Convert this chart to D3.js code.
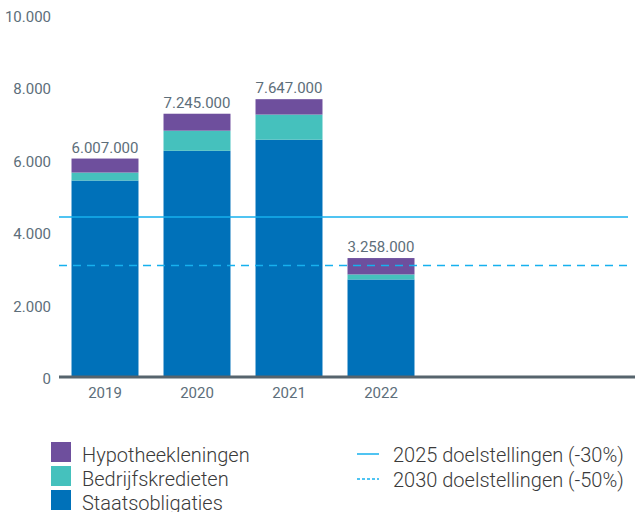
<!DOCTYPE html>
<html>
<head>
<meta charset="utf-8">
<script src="https://cdn.jsdelivr.net/npm/d3@7"></script>
<style>
  body { margin: 0; background: #fff; }
  text { font-family: Roboto, sans-serif; }
</style>
</head>
<body>
<div id="chart"></div>
<script>
const years = ["2019", "2020", "2021", "2022"]
const staatsobligaties = [5400, 6222, 6528, 2667]
const bedrijfskredieten = [220, 555, 694, 139]
const hypotheekleningen = [387, 468, 425, 452]
const totals = ["6.007.000", "7.245.000", "7.647.000", "3.258.000"]
const yTicks = [0, 2000, 4000, 6000, 8000, 10000]
const target2025 = 4390
const target2030 = 3050

const seriesNames = ["Staatsobligaties", "Bedrijfskredieten", "Hypotheekleningen"]
const colors = { Staatsobligaties: "#0071b9", Bedrijfskredieten: "#45c1bd", Hypotheekleningen: "#6e4f9d" }
const lineColor = "#16b1ee"
const textColor = "#5d6e7a"

const width = 635, height = 512
const svg = d3.select("#chart").append("svg").attr("width", width).attr("height", height)

const rows = years.map((y, i) => ({
  year: y,
  Staatsobligaties: staatsobligaties[i],
  Bedrijfskredieten: bedrijfskredieten[i],
  Hypotheekleningen: hypotheekleningen[i]
}))
const stacked = d3.stack().keys(seriesNames)(rows)

const x = d3.scaleBand().domain(years).range([59, 59 + 92 * 4]).paddingInner(0.272).paddingOuter(0.136)
const y = d3.scaleLinear().domain([0, 10000]).range([376, 14])

// y labels
svg.append("g").selectAll("text").data(yTicks).join("text")
  .attr("x", 51).attr("y", d => y(d) + 8)
  .attr("text-anchor", "end").attr("font-size", 15).attr("fill", textColor)
  .text(d => d3.format(",")(d).replace(/,/g, "."))

// bars
svg.append("g").selectAll("g").data(stacked).join("g")
  .attr("fill", d => colors[d.key])
  .selectAll("rect").data(d => d).join("rect")
  .attr("x", d => x(d.data.year))
  .attr("width", x.bandwidth())
  .attr("y", d => y(d[1]))
  .attr("height", d => y(d[0]) - y(d[1]))

// total labels
svg.append("g").selectAll("text").data(rows).join("text")
  .attr("x", d => x(d.year) + x.bandwidth() / 2)
  .attr("y", (d, i) => y(staatsobligaties[i] + bedrijfskredieten[i] + hypotheekleningen[i]) - 6)
  .attr("text-anchor", "middle").attr("font-size", 15).attr("fill", textColor)
  .text((d, i) => totals[i])

// target lines
svg.append("line").attr("x1", 59).attr("x2", 628)
  .attr("y1", y(target2025)).attr("y2", y(target2025))
  .attr("stroke", lineColor).attr("stroke-width", 1.5)
svg.append("line").attr("x1", 59).attr("x2", 628)
  .attr("y1", y(target2030)).attr("y2", y(target2030))
  .attr("stroke", lineColor).attr("stroke-width", 1.5).attr("stroke-dasharray", "8,6")

// x axis
svg.append("line").attr("x1", 59).attr("x2", 635).attr("y1", 377).attr("y2", 377)
  .attr("stroke", "#56646d").attr("stroke-width", 3)
svg.append("g").selectAll("text").data(years).join("text")
  .attr("x", d => x(d) + x.bandwidth() / 2).attr("y", 398)
  .attr("text-anchor", "middle").attr("font-size", 15).attr("fill", textColor)
  .text(d => d)

// legend
const legendItems = ["Hypotheekleningen", "Bedrijfskredieten", "Staatsobligaties"]
const lg = svg.append("g").selectAll("g").data(legendItems).join("g")
  .attr("transform", (d, i) => `translate(51,${442 + i * 24})`)
lg.append("rect").attr("width", 20).attr("height", 20).attr("fill", d => colors[d])
lg.append("text").attr("x", 31).attr("y", 20).attr("font-size", 20).attr("font-weight", 300)
  .attr("fill", "#3a3a3a").text(d => d)

const lineLegend = [
  { label: "2025 doelstellingen (-30%)", dash: null },
  { label: "2030 doelstellingen (-50%)", dash: "3,2" }
]
const ll = svg.append("g").selectAll("g").data(lineLegend).join("g")
  .attr("transform", (d, i) => `translate(357,${454 + i * 25})`)
ll.append("line").attr("x1", 0).attr("x2", 22).attr("stroke", lineColor).attr("stroke-width", 1.5)
  .attr("stroke-dasharray", d => d.dash)
ll.append("text").attr("x", 36).attr("y", 8).attr("font-size", 20).attr("font-weight", 300)
  .attr("fill", "#3a3a3a").text(d => d.label)
</script>
</body>
</html>
